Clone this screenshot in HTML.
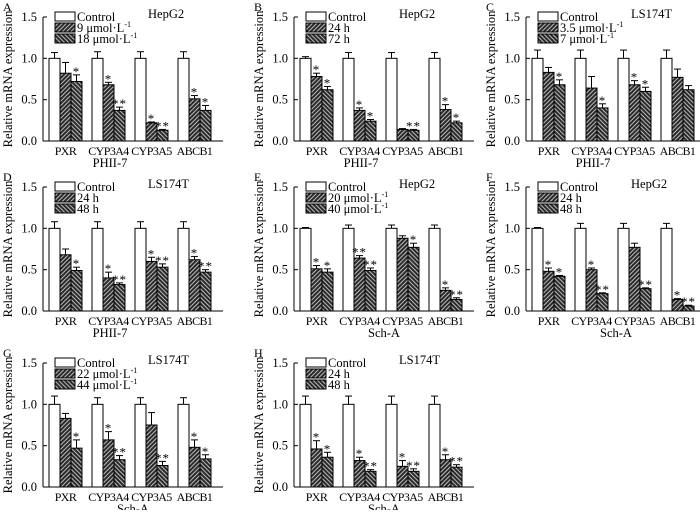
<!DOCTYPE html>
<html><head><meta charset="utf-8"><style>
body{margin:0;background:#fff}
svg text{font-family:"Liberation Serif",serif;fill:#000}
</style></head><body>
<svg id="fig" width="700" height="510" viewBox="0 0 700 510" xmlns="http://www.w3.org/2000/svg">
<defs>
<pattern id="hA" width="3" height="3" patternUnits="userSpaceOnUse" patternTransform="rotate(45)"><rect width="3" height="3" fill="#2a2a2a"/><rect width="1" height="3" fill="#bbb"/></pattern>
<pattern id="hB" width="3" height="3" patternUnits="userSpaceOnUse" patternTransform="rotate(-45)"><rect width="3" height="3" fill="#2a2a2a"/><rect width="1" height="3" fill="#bbb"/></pattern>
</defs>
</svg>
<script>
const genes=["PXR","CYP3A4","CYP3A5","ABCB1"];
const yTicks=[0,0.5,1.0,1.5];
const panelLetters=["A","B","C","D","E","F","G","H"];
const cells=["HepG2","HepG2","LS174T","LS174T","HepG2","HepG2","LS174T","LS174T"];
const legend2=[["9 μmol·L","18 μmol·L"],["24 h","72 h"],["3.5 μmol·L","7 μmol·L"],["24 h","48 h"],["20 μmol·L","40 μmol·L"],["24 h","48 h"],["22 μmol·L","44 μmol·L"],["24 h","48 h"]];
const drugs=["PHII-7","PHII-7","PHII-7","PHII-7","Sch-A","Sch-A","Sch-A","Sch-A"];
const vals=[
[[1,.82,.72],[1,.68,.37],[1,.22,.13],[1,.51,.37]],
[[1,.78,.62],[1,.37,.24],[1,.14,.13],[1,.38,.22]],
[[1,.83,.68],[1,.64,.40],[1,.68,.60],[1,.77,.62]],
[[1,.68,.49],[1,.40,.32],[1,.60,.53],[1,.62,.47]],
[[1,.51,.47],[1,.64,.49],[1,.88,.77],[1,.25,.14]],
[[1,.48,.42],[1,.50,.21],[1,.77,.27],[1,.14,.06]],
[[1,.83,.47],[1,.57,.33],[1,.75,.26],[1,.48,.34]],
[[1,.46,.36],[1,.32,.19],[1,.25,.19],[1,.33,.24]]];
const errs=[
[[.07,.13,.08],[.08,.03,.04],[.08,.01,.01],[.08,.04,.06]],
[[.02,.04,.04],[.07,.03,.02],[.07,.01,.01],[.07,.06,.02]],
[[.1,.06,.06],[.1,.14,.05],[.1,.05,.05],[.1,.1,.05]],
[[.08,.07,.04],[.08,.07,.02],[.08,.05,.04],[.08,.04,.03]],
[[.01,.04,.04],[.04,.03,.03],[.04,.03,.05],[.04,.03,.02]],
[[.01,.04,.01],[.06,.02,.01],[.06,.05,.01],[.06,.01,.01]],
[[.1,.06,.1],[.08,.1,.05],[.08,.15,.05],[.08,.09,.05]],
[[.1,.1,.06],[.1,.04,.02],[.1,.07,.03],[.1,.06,.03]]];
const stars=[
[["","","*"],["","*","**"],["","*","**"],["","*","*"]],
[["","*","*"],["","*","*"],["","","**"],["","*","*"]],
[["","","*"],["","","*"],["","*","*"],["","",""]],
[["","","*"],["","*","**"],["","*","**"],["","*","**"]],
[["","*","*"],["","**","**"],["","","*"],["","*","**"]],
[["","*","*"],["","*","**"],["","","**"],["","*","**"]],
[["","","*"],["","*","**"],["","","**"],["","*","*"]],
[["","*","*"],["","*","**"],["","*","**"],["","*","**"]]];
const svg=document.getElementById('fig');
const NS="http://www.w3.org/2000/svg";
function el(t,a,p){const e=document.createElementNS(NS,t);for(const k in a)e.setAttribute(k,a[k]);(p||svg).appendChild(e);return e;}
const axX=[43,294,526], topY=[17,187,363], H=124;
const fills=["#fff","url(#hA)","url(#hB)"];
for(let p=0;p<8;p++){
  const ox=axX[p%3], ty=topY[Math.floor(p/3)];
  const g=el('g',{});
  
  
  const y=v=>ty+H-v/1.5*H;
  const t=el('text',{x:ox-40,y:ty-6,'font-size':12},g);t.textContent=panelLetters[p];
  
  const ax=el('line',{x1:ox,x2:ox,y1:ty,y2:ty+H,stroke:'#000','stroke-width':1},g);
  
  const bx=el('line',{x1:ox,x2:ox+180,y1:ty+H,y2:ty+H,stroke:'#000','stroke-width':1},g);
  
  yTicks.forEach(v=>{
    el('line',{x1:ox,x2:ox+4,y1:y(v),y2:y(v),stroke:'#000'},g);
    const tt=el('text',{x:ox-6,y:y(v)+4,'font-size':12.5,'text-anchor':'end'},g);tt.textContent=v.toFixed(1);
    
  });
  const yt=el('text',{transform:`translate(${ox-31},${ty+H/2}) rotate(-90)`,'font-size':12.5,'text-anchor':'middle'},g);
  yt.textContent='Relative mRNA expression';
  
  genes.forEach((gn,gi)=>{
    const gx=ox+6+gi*43;
    for(let b=0;b<3;b++){
      const v=vals[p][gi][b], e=errs[p][gi][b], x=gx+b*11;
      const r=el('rect',{x:x,y:y(v),width:11,height:y(0)-y(v),fill:fills[b],stroke:'#000','stroke-width':1},g);
      
      el('line',{x1:x+5.5,x2:x+5.5,y1:y(v),y2:y(v+e),stroke:'#000'},g);
      el('line',{x1:x+2,x2:x+9,y1:y(v+e),y2:y(v+e),stroke:'#000'},g);
      if(stars[p][gi][b]){const s=el('text',{x:x+5.5,y:y(v+e)+1,'font-size':13,'text-anchor':'middle','letter-spacing':'1'},g);s.textContent=stars[p][gi][b];
        }
    }
    const lt=el('text',{x:gx+16.5,y:ty+H+14,'font-size':12,'text-anchor':'middle','letter-spacing':'-0.6'},g);lt.textContent=gn;
    
  });
  const dt=el('text',{x:ox+(p<4?67:90),y:ty+H+26,'font-size':12.5,'text-anchor':'middle'},g);dt.textContent=drugs[p];
  
  const labs=["Control"].concat(legend2[p]);
  for(let i=0;i<3;i++){
    const ly=ty-5+i*11;
    const lr=el('rect',{x:ox+12,y:ly,width:20,height:9,fill:fills[i],stroke:'#000'},g);
    
    const lt=el('text',{x:ox+34,y:ly+9,'font-size':12.5},g);lt.textContent=labs[i];
    
    if(i>0&&labs[i].indexOf('μmol')>=0){const sp=el('tspan',{'font-size':8,dy:-5},lt);sp.textContent='-1';}
  }
  const ct=el('text',{x:ox+105,y:ty+1,'font-size':12.5},g);ct.textContent=cells[p];
  
}
</script>
</body></html>
